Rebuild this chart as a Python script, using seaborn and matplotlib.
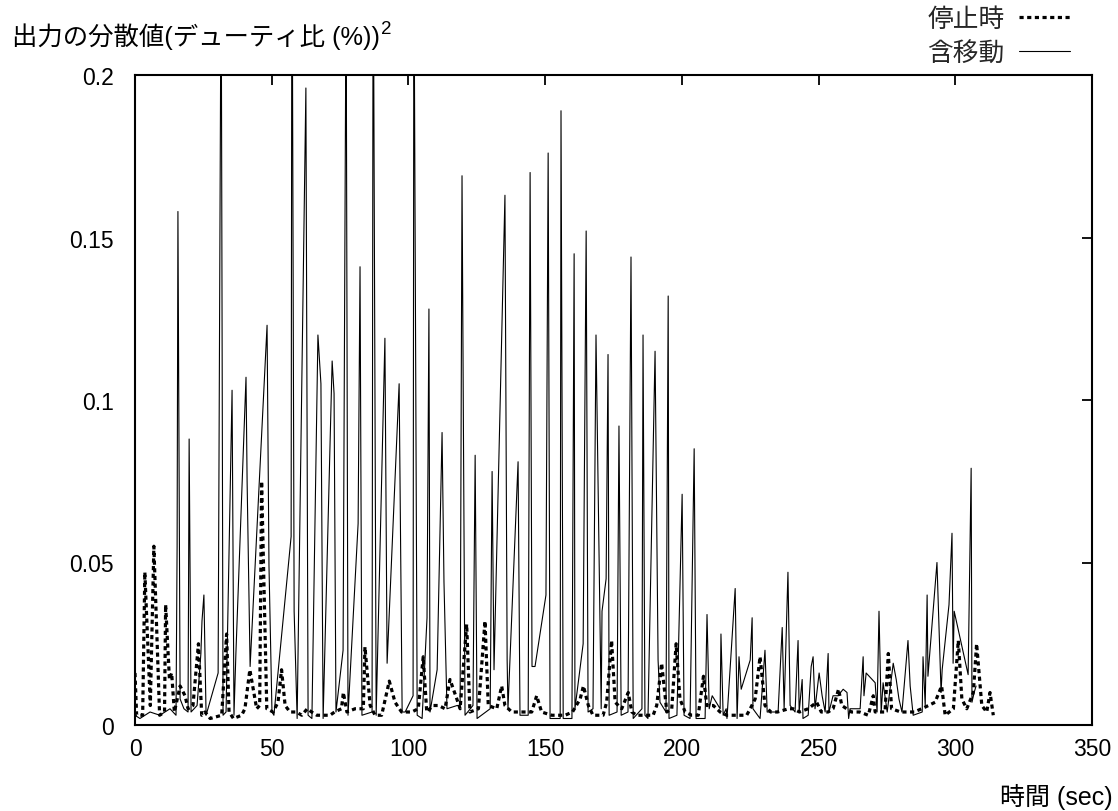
import matplotlib
matplotlib.use("Agg")
import matplotlib.pyplot as plt
import seaborn as sns
import pandas as pd

# 含移動: variance of the output while moving (time in sec, value)
moving_t = [0.0, 1.8, 5.5, 9.1, 12.8, 15.0, 15.4, 15.7, 16.5, 17.9, 19.4, 19.8, 20.5, 22.7, 24.1,
            24.5, 25.2, 26.0, 30.4, 31.5, 32.2, 33.3, 35.5, 36.2, 36.9, 40.6, 41.0, 42.1, 48.3,
            49.0, 50.1, 50.8, 57.1, 57.4, 58.2, 59.3, 62.5, 63.3, 64.7, 66.9, 68.0, 68.8, 72.1,
            72.8, 73.5, 76.1, 77.2, 77.9, 81.6, 82.3, 83.0, 86.7, 87.1, 88.2, 91.4, 92.2, 96.6,
            97.7, 98.8, 101.7, 102.0, 103.2, 105.0, 106.8, 107.5, 107.9, 110.5, 112.3, 113.0,
            114.1, 117.8, 118.9, 119.6, 120.7, 123.6, 124.4, 125.1, 129.9, 130.6, 131.3, 135.3,
            136.1, 136.4, 140.1, 140.8, 143.8, 144.5, 145.2, 146.3, 150.3, 151.1, 151.8, 155.5,
            155.8, 156.6, 159.8, 160.6, 160.9, 163.9, 165.0, 165.7, 167.5, 168.6, 170.5, 170.8,
            172.3, 173.0, 173.4, 176.3, 177.0, 177.8, 180.3, 181.4, 182.2, 185.4, 185.8, 186.5,
            187.6, 190.2, 191.3, 192.0, 194.2, 195.0, 195.3, 198.2, 200.1, 200.8, 203.0, 204.5,
            205.2, 208.5, 209.2, 210.0, 211.1, 214.0, 214.3, 215.1, 216.2, 216.5, 219.5, 220.2,
            220.9, 221.7, 225.0, 225.7, 226.0, 228.6, 230.4, 231.2, 234.1, 235.2, 236.7, 237.4,
            238.8, 239.6, 241.4, 242.5, 242.9, 244.0, 244.3, 246.2, 247.3, 248.0, 248.7, 250.2,
            251.3, 252.4, 253.5, 253.8, 255.3, 257.1, 259.0, 260.4, 261.0, 261.5, 265.2, 266.3,
            266.6, 267.4, 270.7, 271.4, 272.1, 272.9, 273.6, 275.1, 277.3, 278.4, 279.4, 280.5,
            282.7, 283.5, 284.6, 287.9, 288.2, 289.0, 289.7, 290.0, 293.3, 294.8, 295.2, 297.7,
            298.8, 299.2, 299.6, 304.7, 305.8, 306.1, 306.9, 307.6]
moving_v = [0.003, 0.002, 0.004, 0.003, 0.005, 0.003, 0.055, 0.158, 0.008, 0.005, 0.004, 0.088,
            0.004, 0.006, 0.022, 0.032, 0.040, 0.003, 0.016, 0.240, 0.003, 0.004, 0.103, 0.003,
            0.022, 0.107, 0.075, 0.018, 0.123, 0.049, 0.004, 0.003, 0.058, 0.260, 0.035, 0.002,
            0.196, 0.003, 0.002, 0.120, 0.105, 0.002, 0.112, 0.102, 0.004, 0.023, 0.230, 0.003,
            0.062, 0.141, 0.003, 0.004, 0.250, 0.003, 0.119, 0.019, 0.105, 0.004, 0.004, 0.009,
            0.240, 0.003, 0.002, 0.033, 0.128, 0.004, 0.017, 0.090, 0.044, 0.005, 0.006, 0.006,
            0.169, 0.003, 0.006, 0.083, 0.002, 0.005, 0.078, 0.017, 0.163, 0.020, 0.005, 0.081,
            0.003, 0.003, 0.170, 0.018, 0.018, 0.040, 0.176, 0.002, 0.002, 0.189, 0.002, 0.002,
            0.145, 0.005, 0.025, 0.152, 0.004, 0.005, 0.120, 0.005, 0.035, 0.045, 0.114, 0.003,
            0.004, 0.092, 0.003, 0.004, 0.144, 0.002, 0.005, 0.120, 0.003, 0.002, 0.115, 0.020,
            0.007, 0.004, 0.132, 0.002, 0.003, 0.071, 0.003, 0.002, 0.085, 0.002, 0.002, 0.034,
            0.005, 0.009, 0.005, 0.028, 0.003, 0.005, 0.002, 0.042, 0.002, 0.021, 0.011, 0.020,
            0.033, 0.005, 0.002, 0.023, 0.004, 0.004, 0.004, 0.030, 0.005, 0.047, 0.006, 0.004,
            0.026, 0.004, 0.014, 0.002, 0.003, 0.018, 0.021, 0.005, 0.016, 0.009, 0.004, 0.022,
            0.004, 0.009, 0.009, 0.011, 0.010, 0.002, 0.005, 0.005, 0.021, 0.009, 0.016, 0.013,
            0.004, 0.035, 0.004, 0.013, 0.004, 0.019, 0.014, 0.008, 0.004, 0.026, 0.012, 0.003,
            0.004, 0.021, 0.006, 0.040, 0.015, 0.050, 0.010, 0.017, 0.037, 0.059, 0.019, 0.035,
            0.0155, 0.079, 0.007, 0.010, 0.012]

# 停止時: variance of the output while stopped (time in sec, value)
stopped_t = [0.0, 0.6, 2.8, 3.6, 5.6, 6.9, 9.0, 10.8, 11.2, 12.6, 13.4, 14.4, 16.5, 18.3, 19.4,
             21.2, 23.2, 24.4, 25.6, 27.5, 31.7, 33.5, 34.4, 36.0, 39.0, 40.2, 42.0, 44.5, 45.6,
             46.3, 48.2, 50.5, 52.3, 53.6, 54.9, 56.7, 59.0, 61.0, 63.0, 64.6, 66.5, 68.8, 71.3,
             73.0, 75.5, 76.2, 77.5, 80.5, 83.5, 84.1, 86.0, 87.8, 90.2, 93.0, 95.1, 97.5, 101.2,
             103.6, 105.4, 106.7, 109.0, 111.0, 113.4, 115.2, 117.7, 118.9, 121.3, 122.5, 125.6,
             128.0, 129.2, 132.3, 134.1, 135.3, 137.8, 145.1, 146.9, 148.7, 152.4, 157.3, 160.0,
             162.8, 164.0, 165.8, 167.5, 171.2, 172.5, 174.3, 175.6, 178.0, 180.4, 181.7, 183.5,
             189.5, 190.8, 192.6, 194.5, 196.3, 197.9, 199.3, 201.2, 203.6, 206.0, 207.9, 209.1,
             211.5, 214.0, 216.4, 223.7, 225.0, 226.8, 228.6, 230.4, 232.5, 235.0, 239.0, 240.7,
             243.0, 246.2, 249.3, 251.0, 253.5, 255.3, 257.3, 258.5, 262.0, 265.0, 268.2, 270.0,
             270.7, 274.3, 275.5, 276.7, 280.0, 285.0, 287.7, 290.2, 292.6, 295.0, 296.3, 299.3,
             301.1, 302.4, 304.2, 306.6, 307.8, 309.7, 311.5, 312.7, 313.9]
stopped_v = [0.016, 0.003, 0.003, 0.047, 0.006, 0.055, 0.003, 0.004, 0.037, 0.014, 0.016, 0.004,
             0.012, 0.009, 0.005, 0.006, 0.025, 0.003, 0.004, 0.002, 0.003, 0.028, 0.004, 0.002,
             0.003, 0.005, 0.017, 0.005, 0.006, 0.075, 0.005, 0.004, 0.007, 0.017, 0.006, 0.004,
             0.004, 0.003, 0.005, 0.004, 0.003, 0.003, 0.003, 0.004, 0.005, 0.010, 0.004, 0.005,
             0.005, 0.024, 0.006, 0.003, 0.003, 0.0135, 0.007, 0.004, 0.004, 0.005, 0.021, 0.004,
             0.006, 0.006, 0.005, 0.014, 0.008, 0.005, 0.031, 0.004, 0.005, 0.032, 0.006, 0.005,
             0.012, 0.006, 0.004, 0.004, 0.009, 0.004, 0.003, 0.003, 0.004, 0.008, 0.012, 0.006,
             0.003, 0.003, 0.007, 0.026, 0.007, 0.005, 0.010, 0.004, 0.003, 0.003, 0.006, 0.019,
             0.004, 0.005, 0.025, 0.008, 0.004, 0.003, 0.003, 0.015, 0.006, 0.006, 0.004, 0.003,
             0.003, 0.005, 0.008, 0.021, 0.006, 0.004, 0.004, 0.005, 0.005, 0.004, 0.005, 0.007,
             0.004, 0.004, 0.005, 0.011, 0.006, 0.004, 0.004, 0.003, 0.009, 0.004, 0.004, 0.022,
             0.005, 0.004, 0.004, 0.005, 0.006, 0.007, 0.012, 0.003, 0.005, 0.026, 0.008, 0.005,
             0.010, 0.025, 0.006, 0.004, 0.010, 0.003]

x_ticks = [0, 50, 100, 150, 200, 250, 300, 350]
y_ticks = [0, 0.05, 0.1, 0.15, 0.2]
y_tick_labels = ["0", "0.05", "0.1", "0.15", "0.2"]

label_stopped = "停止時"
label_moving = "含移動"
y_title = "出力の分散値(デューティ比 (%))"
x_title = "時間 (sec)"

sns.set_theme(style="white")
plt.rcParams["font.family"] = ["Liberation Sans", "Noto Sans CJK JP", "DejaVu Sans"]
plt.rcParams["axes.unicode_minus"] = False

fig = plt.figure(figsize=(11.18, 8.12), dpi=100)
ax = fig.add_axes([135 / 1118, 1 - 726 / 812, (1092 - 135) / 1118, (726 - 76) / 812])

df_stop = pd.DataFrame({"t": stopped_t, "v": stopped_v})
df_move = pd.DataFrame({"t": moving_t, "v": moving_v})

sns.lineplot(data=df_stop, x="t", y="v", ax=ax, color="black", linewidth=2.3,
             estimator=None, sort=False, label=label_stopped,
             linestyle=(0, (1.3, 1.1)), dash_capstyle="butt")
sns.lineplot(data=df_move, x="t", y="v", ax=ax, color="black", linewidth=0.8,
             estimator=None, sort=False, label=label_moving)

ax.set_xlim(0, 350)
ax.set_ylim(0, 0.2)
ax.set_xticks(x_ticks)
ax.set_xticklabels([str(v) for v in x_ticks])
ax.set_yticks(y_ticks)
ax.set_yticklabels(y_tick_labels)
ax.set_xlabel("")
ax.set_ylabel("")

for s in ax.spines.values():
    s.set_visible(True)
    s.set_color("black")
    s.set_linewidth(1.5)

ax.tick_params(axis="both", which="major", direction="in", length=7, width=1.3,
               top=True, right=True, labelsize=16.5, colors="black")
ax.tick_params(axis="y", pad=15)
ax.tick_params(axis="x", pad=9)

# legend in gnuplot style: label first, sample after
handles, labels = ax.get_legend_handles_labels()
ax.get_legend().remove()
fig.legend(handles, labels, loc="upper right", bbox_to_anchor=(1070 / 1118, 1 - 8 / 812),
           frameon=False, markerfirst=False, fontsize=18.5, handlelength=2.0,
           handletextpad=0.55, labelspacing=0.4, borderpad=0, borderaxespad=0)

yt = fig.text(12 / 1118, 1 - 37 / 812, y_title, ha="left", va="center", fontsize=18.3,
              color="black")
ax.annotate("2", xy=(1, 1), xycoords=yt, xytext=(1, 2), textcoords="offset points",
            ha="left", va="top", fontsize=13.5, color="black", annotation_clip=False)

fig.text(1113 / 1118, 1 - 797 / 812, x_title, ha="right", va="center", fontsize=18,
         color="black")

fig.savefig("out.png", dpi=100)
